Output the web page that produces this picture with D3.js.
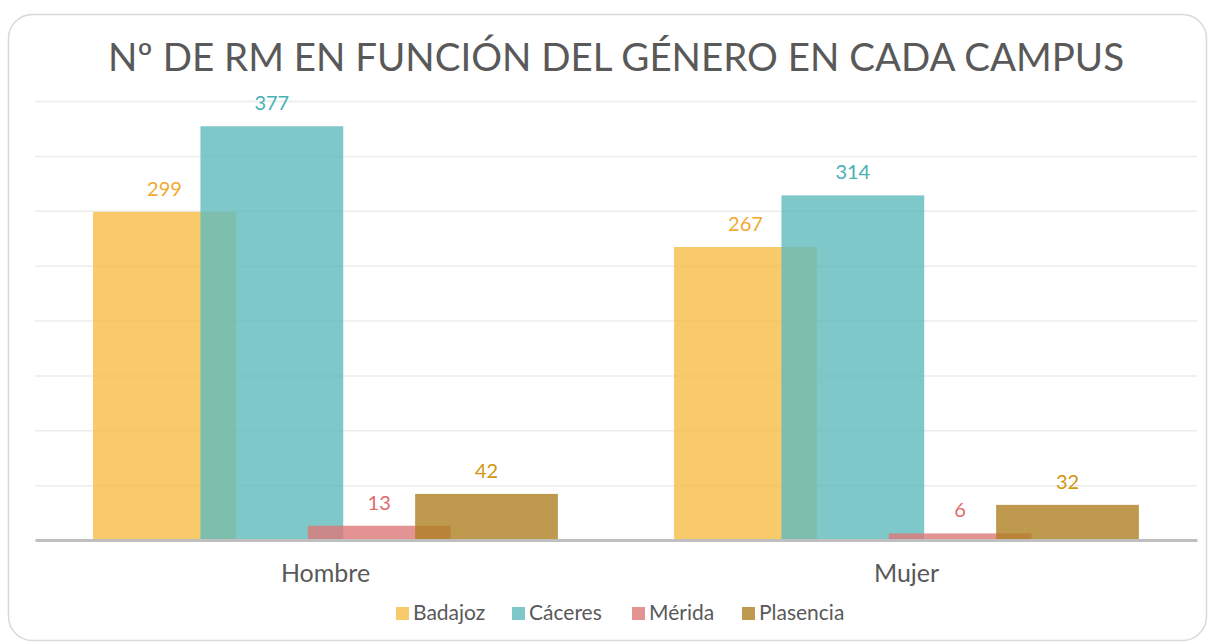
<!DOCTYPE html>
<html lang="es">
<head>
<meta charset="UTF-8">
<title>Nº de RM por género y campus</title>
<script src="https://cdn.jsdelivr.net/npm/d3@7"></script>
<style>
  body { margin: 0; background: #fff; }
  text { font-family: Lato, "Open Sans", sans-serif; }
</style>
</head>
<body>
<div id="box"></div>
<script>
// datos
const categorias = ["Hombre", "Mujer"];
const campus = ["Badajoz", "Cáceres", "Mérida", "Plasencia"];
const badajoz = [299, 267];
const caceres = [377, 314];
const merida = [13, 6];
const plasencia = [42, 32];
const yTicks = [0, 50, 100, 150, 200, 250, 300, 350, 400];

const series = [badajoz, caceres, merida, plasencia];
const fills = ["#F6BD45", "#5FBABD", "#DD7878", "#AF8122"];
const labelColors = ["#F2A930", "#49B1B4", "#E06B6B", "#D3960E"];

const width = 1209, height = 642;
const svg = d3.select("#box").append("svg")
  .attr("width", width).attr("height", height);

// marco
svg.append("rect")
  .attr("x", 8.5).attr("y", 14.5)
  .attr("width", 1198).attr("height", 626)
  .attr("rx", 24)
  .attr("fill", "#fff").attr("stroke", "#d9d9d9").attr("stroke-width", 1.5);

const margin = {top: 101, left: 35, right: 12, bottom: 102};
const innerW = width - margin.left - margin.right;
const innerH = height - margin.top - margin.bottom;

const g = svg.append("g").attr("transform", `translate(${margin.left},${margin.top})`);

const y = d3.scaleLinear().domain([0, 400]).range([innerH, 0]);
const x0 = d3.scaleBand().domain(categorias).range([0, innerW]).padding(0);
const groupW = x0.bandwidth() * 0.8;
const barW = groupW * 143 / 465.5;
const x1 = d3.scalePoint().domain(campus).range([0, groupW - barW]);
const groupStart = (x0.bandwidth() - groupW) / 2;

// rejilla
g.append("g")
  .call(d3.axisLeft(y).tickValues(yTicks.slice(1)).tickSize(-innerW).tickFormat(""))
  .call(a => a.select(".domain").remove())
  .call(a => a.selectAll(".tick line").attr("stroke", "#ececec").attr("stroke-width", 1.5));

// barras
campus.forEach((c, i) => {
  const data = categorias.map((cat, j) => ({cat, v: series[i][j]}));
  g.append("g").selectAll("rect").data(data).join("rect")
    .attr("x", d => x0(d.cat) + groupStart + x1(c))
    .attr("y", d => y(d.v))
    .attr("width", barW)
    .attr("height", d => innerH - y(d.v))
    .attr("fill", fills[i])
    .attr("fill-opacity", 0.8);
});

// etiquetas
campus.forEach((c, i) => {
  const data = categorias.map((cat, j) => ({cat, v: series[i][j]}));
  g.append("g").selectAll("text").data(data).join("text")
    .attr("x", d => x0(d.cat) + groupStart + x1(c) + barW / 2)
    .attr("y", d => y(d.v) - 16)
    .attr("text-anchor", "middle")
    .attr("font-size", 20)
    .attr("fill", labelColors[i])
    .text(d => d.v);
});

// eje x
const xAxis = g.append("g").attr("transform", `translate(0,${innerH})`)
  .call(d3.axisBottom(x0).tickSize(0).tickPadding(24));
xAxis.select(".domain").attr("stroke", "#bfbfbf").attr("stroke-width", 3);
xAxis.selectAll("text").attr("font-size", 25).attr("fill", "#595959")
  .attr("font-family", "Lato, sans-serif");

// título
svg.append("text")
  .attr("x", 616).attr("y", 71)
  .attr("text-anchor", "middle")
  .attr("font-size", 38.5)
  .attr("fill", "#595959")
  .text("Nº DE RM EN FUNCIÓN DEL GÉNERO EN CADA CAMPUS");

// leyenda
const legendX = [396, 512, 632, 742];
const legend = svg.append("g");
campus.forEach((c, i) => {
  const it = legend.append("g").attr("transform", `translate(${legendX[i]},607)`);
  it.append("rect").attr("width", 13).attr("height", 13)
    .attr("fill", fills[i]).attr("fill-opacity", 0.8);
  it.append("text").attr("x", 17).attr("y", 13)
    .attr("font-size", 21).attr("fill", "#595959").text(c);
});
</script>
</body>
</html>
